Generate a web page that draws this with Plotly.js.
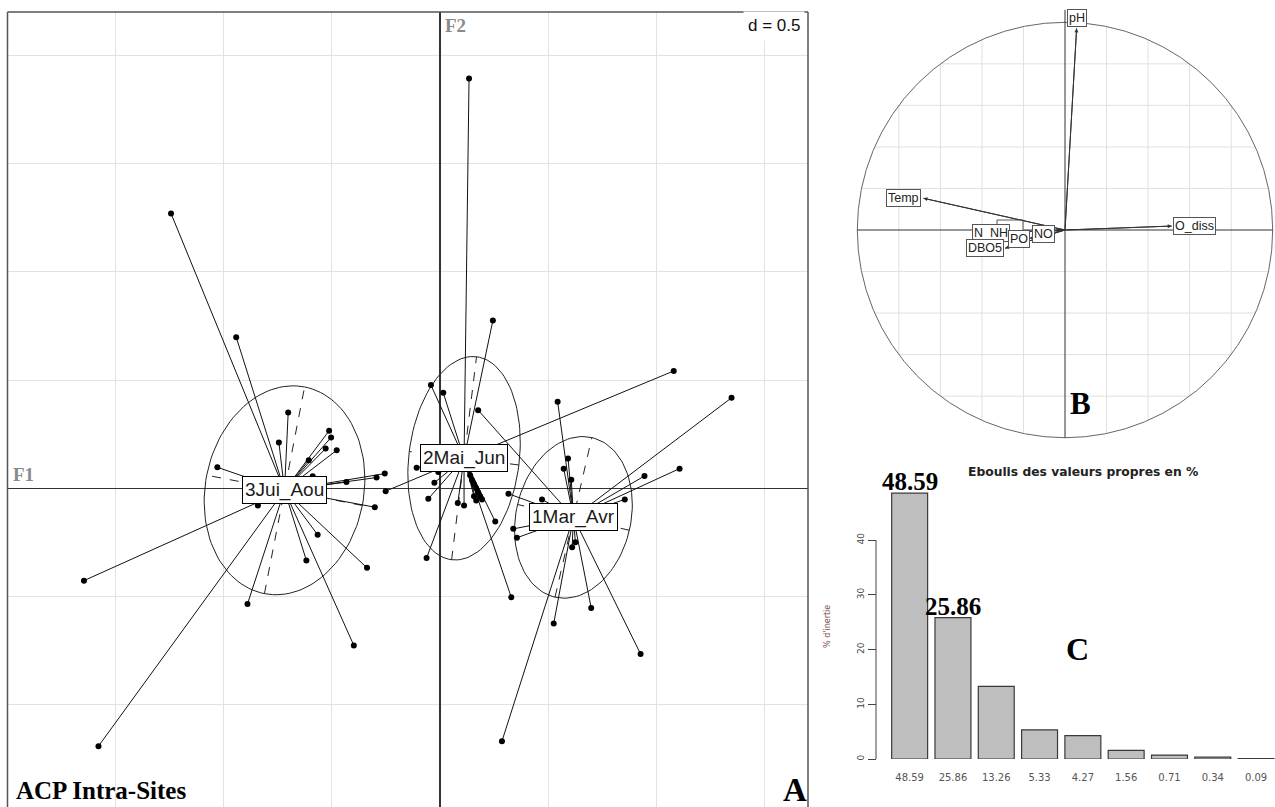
<!DOCTYPE html>
<html>
<head>
<meta charset="utf-8">
<script src="https://cdn.plot.ly/plotly-3.0.1.min.js"></script>
<style>html,body{margin:0;padding:0;background:#fff;}#chart{width:1275px;height:807px;}</style>
</head>
<body>
<div id="chart"></div>
<script>
// ---------- Panel A : ACP intra-sites (s.class) ----------
const groupNames = ["1Mar_Avr", "2Mai_Jun", "3Jui_Aou"];
const centroidX = [0.616, 0.111, -0.718];
const centroidY = [-0.134, 0.139, -0.009];

const g1X = [0.543, 0.591, 0.571, 0.606, 0.944, 0.853, 1.106, 1.346, 0.471, 0.316, 0.338, 0.355, 0.176, 0.625, 0.610, 0.525, 0.698, 0.926, 0.286];
const g1Y = [0.400, 0.138, 0.091, 0.040, 0.057, -0.051, 0.091, 0.418, -0.051, -0.025, -0.187, -0.228, 0.361, -0.249, -0.272, -0.624, -0.552, -0.765, -1.167];

const g2X = [0.134, 0.244, -0.042, 0.015, -0.108, -0.251, -0.008, -0.026, -0.054, 0.082, 0.111, -0.062, 0.255, 0.329, 1.079, 0.139, 0.148, 0.157, 0.167, 0.176, 0.185, 0.194, 0.157, 0.167];
const g2Y = [1.892, 0.775, 0.477, 0.441, 0.095, -0.013, 0.075, 0.026, -0.048, -0.068, -0.079, -0.321, -0.153, -0.503, 0.542, 0.060, 0.037, 0.019, 0.000, -0.019, -0.037, -0.051, -0.037, -0.056];

const g3X = [-1.242, -0.941, -0.701, -0.744, -0.512, -0.503, -0.528, -0.477, -0.606, -0.588, -1.028, -0.841, -0.565, -0.617, -0.337, -0.889, -1.644, -1.577, -0.398, -0.432, -0.293, -0.255, -0.301];
const g3Y = [1.269, 0.698, 0.350, 0.212, 0.266, 0.235, 0.184, 0.176, 0.130, 0.056, 0.097, -0.079, -0.214, -0.333, -0.367, -0.534, -0.426, -1.190, -0.725, 0.029, 0.050, 0.068, -0.087];

// inertia ellipses (semi-axes and orientation in degrees)
const ellMajor = [0.378, 0.472, 0.486];
const ellMinor = [0.265, 0.255, 0.366];
const ellAngle = [77, 83, 79];

// ---------- Panel B : correlation circle ----------
const varNames = ["N_NH", "DBO5", "PO", "NO", "Temp", "O_diss", "pH"];
const varX = [-0.270, -0.289, -0.170, -0.043, -0.682, 0.514, 0.056];
const varY = [-0.010, -0.088, -0.040, 0.000, 0.153, 0.019, 0.971];

// ---------- Panel C : scree plot ----------
const screeValues = [48.59, 25.86, 13.26, 5.33, 4.27, 1.56, 0.71, 0.34, 0.09];
const screeLabels = ["48.59", "25.86", "13.26", "5.33", "4.27", "1.56", "0.71", "0.34", "0.09"];
const screeTicks = [0, 10, 20, 30, 40];

// ---------- helpers ----------
const W = 1275, H = 807;
const px = x => x / W;
const py = y => 1 - y / H;
const SANS = "Liberation Sans, Arial, sans-serif";
const SERIF = "Liberation Serif, Times New Roman, serif";

const groupsX = [g1X, g2X, g3X];
const groupsY = [g1Y, g2Y, g3Y];

const traces = [];

// ellipses + dashed axes
for (let g = 0; g < 3; g++) {
  const cx = centroidX[g], cy = centroidY[g];
  const a = ellMajor[g], b = ellMinor[g], th = ellAngle[g] * Math.PI / 180;
  const ex = [], ey = [];
  for (let k = 0; k <= 120; k++) {
    const t = 2 * Math.PI * k / 120;
    ex.push(cx + a * Math.cos(t) * Math.cos(th) - b * Math.sin(t) * Math.sin(th));
    ey.push(cy + a * Math.cos(t) * Math.sin(th) + b * Math.sin(t) * Math.cos(th));
  }
  traces.push({x: ex, y: ey, xaxis: 'x', yaxis: 'y', mode: 'lines', type: 'scatter',
    line: {color: '#222', width: 1}, hoverinfo: 'skip'});
  const ax = [cx - a * Math.cos(th), cx + a * Math.cos(th), null, cx + b * Math.sin(th), cx - b * Math.sin(th)];
  const ay = [cy - a * Math.sin(th), cy + a * Math.sin(th), null, cy - b * Math.cos(th), cy + b * Math.cos(th)];
  traces.push({x: ax, y: ay, xaxis: 'x', yaxis: 'y', mode: 'lines', type: 'scatter',
    line: {color: '#222', width: 1, dash: 'dash'}, hoverinfo: 'skip'});
}

// stars
for (let g = 0; g < 3; g++) {
  const sx = [], sy = [];
  groupsX[g].forEach((v, i) => {
    sx.push(centroidX[g], v, null);
    sy.push(centroidY[g], groupsY[g][i], null);
  });
  traces.push({x: sx, y: sy, xaxis: 'x', yaxis: 'y', mode: 'lines', type: 'scatter',
    line: {color: '#111', width: 1}, hoverinfo: 'skip'});
}
for (let g = 0; g < 3; g++) {
  traces.push({x: groupsX[g], y: groupsY[g], xaxis: 'x', yaxis: 'y', mode: 'markers', type: 'scatter',
    marker: {color: '#000', size: 6}, hoverinfo: 'skip'});
}

// panel B arrow shafts
const shX = [], shY = [];
varX.forEach((v, i) => { shX.push(0, v, null); shY.push(0, varY[i], null); });
traces.push({x: shX, y: shY, xaxis: 'x2', yaxis: 'y2', mode: 'lines', type: 'scatter',
  line: {color: '#333', width: 1}, hoverinfo: 'skip'});

// panel C bars
traces.push({x: screeLabels, y: screeValues, xaxis: 'x3', yaxis: 'y3', type: 'bar', width: 0.83,
  marker: {color: '#bebebe', line: {color: '#3a3a3a', width: 1.2}}, hoverinfo: 'skip'});

// ---------- shapes ----------
const shapes = [];
const frameStyle = {color: '#555', width: 1.5};
shapes.push({type: 'line', xref: 'paper', yref: 'paper', x0: px(7.5), x1: px(7.5), y0: 0, y1: py(12), line: frameStyle});
shapes.push({type: 'line', xref: 'paper', yref: 'paper', x0: px(7.5), x1: px(808), y0: py(12), y1: py(12), line: frameStyle});
shapes.push({type: 'line', xref: 'paper', yref: 'paper', x0: px(808), x1: px(808), y0: 0, y1: py(12), line: frameStyle});

// panel B grid clipped to unit circle
for (let k = -4; k <= 4; k++) {
  if (k === 0) continue;
  const v = k * 0.2, h = Math.sqrt(1 - v * v);
  shapes.push({type: 'line', xref: 'x2', yref: 'y2', x0: v, x1: v, y0: -h, y1: h, layer: 'below', line: {color: '#e0e0e0', width: 1}});
  shapes.push({type: 'line', xref: 'x2', yref: 'y2', x0: -h, x1: h, y0: v, y1: v, layer: 'below', line: {color: '#e0e0e0', width: 1}});
}
shapes.push({type: 'circle', xref: 'x2', yref: 'y2', x0: -1, x1: 1, y0: -1, y1: 1, line: {color: '#666', width: 1}});
shapes.push({type: 'line', xref: 'x2', yref: 'y2', x0: -1, x1: 1, y0: 0, y1: 0, line: {color: '#333', width: 1}});
shapes.push({type: 'line', xref: 'x2', yref: 'y2', x0: 0, x1: 0, y0: -1, y1: 1.06, line: {color: '#333', width: 1}});
// partly hidden label box behind the cluster of labels
shapes.push({type: 'rect', xref: 'paper', yref: 'paper', x0: px(997), x1: px(1023), y0: py(236), y1: py(220), fillcolor: '#fff', line: {color: '#555', width: 1}});

// panel C y axis line (0 to 40)
shapes.push({type: 'line', xref: 'paper', yref: 'y3', x0: px(876), x1: px(876), y0: 0, y1: 40, line: {color: '#444', width: 1}});

// ---------- annotations ----------
const ann = [];
for (let g = 0; g < 3; g++) {
  ann.push({xref: 'x', yref: 'y', x: centroidX[g], y: centroidY[g], text: groupNames[g], showarrow: false,
    bgcolor: '#fff', bordercolor: '#000', borderwidth: 1, borderpad: 2,
    font: {family: SANS, size: 19, color: '#1a1a1a'}});
}
ann.push({xref: 'paper', yref: 'paper', x: px(11), y: py(474), xanchor: 'left', yanchor: 'middle', text: '<b>F1</b>', showarrow: false,
  font: {family: SERIF, size: 19, color: '#8a8a8a'}});
ann.push({xref: 'paper', yref: 'paper', x: px(443), y: py(25), xanchor: 'left', yanchor: 'middle', text: '<b>F2</b>', showarrow: false,
  font: {family: SERIF, size: 19, color: '#8a8a8a'}});
ann.push({xref: 'paper', yref: 'paper', x: px(805), y: py(26), xanchor: 'right', yanchor: 'middle', text: 'd = 0.5', showarrow: false,
  bgcolor: '#fff', borderpad: 4, font: {family: SANS, size: 17, color: '#111'}});
ann.push({xref: 'paper', yref: 'paper', x: px(14), y: py(790), xanchor: 'left', yanchor: 'middle', text: '<b>ACP Intra-Sites</b>', showarrow: false,
  font: {family: SERIF, size: 25, color: '#000'}});
ann.push({xref: 'paper', yref: 'paper', x: px(781), y: py(790), xanchor: 'left', yanchor: 'middle', text: '<b>A</b>', showarrow: false,
  font: {family: SERIF, size: 33, color: '#000'}});

// panel B arrows and labels
const labShiftX = [-18, -20, -11, -13, -19.5, 22.5, 0];
const labShiftY = [-1, 0, -1, -4, 0, 0, 10];
varX.forEach((v, i) => {
  ann.push({xref: 'x2', yref: 'y2', axref: 'x2', ayref: 'y2', x: v, y: varY[i], ax: 0, ay: 0, text: '',
    showarrow: true, arrowhead: 2, arrowsize: 0.8, arrowwidth: 1, arrowcolor: '#333', standoff: 0});
});
varX.forEach((v, i) => {
  ann.push({xref: 'x2', yref: 'y2', x: v, y: varY[i], xshift: labShiftX[i], yshift: labShiftY[i], text: varNames[i], showarrow: false,
    bgcolor: '#fff', bordercolor: '#555', borderwidth: 1, borderpad: 1,
    font: {family: SANS, size: 12.5, color: '#222'}});
});
ann.push({xref: 'paper', yref: 'paper', x: px(1080), y: py(403), xanchor: 'center', yanchor: 'middle', text: '<b>B</b>', showarrow: false,
  font: {family: SERIF, size: 31, color: '#000'}});

// panel C texts
ann.push({xref: 'paper', yref: 'paper', x: px(1083), y: py(472), xanchor: 'center', yanchor: 'middle',
  text: '<b>Eboulis des valeurs propres en %</b>', showarrow: false, font: {family: 'DejaVu Sans, sans-serif', size: 12.3, color: '#222'}});
[0, 1].forEach(i => {
  ann.push({xref: 'x3', yref: 'y3', x: i, y: screeValues[i], yanchor: 'bottom', yshift: -4,
    text: '<b>' + screeLabels[i] + '</b>', showarrow: false, font: {family: SERIF, size: 25, color: '#000'}});
});
ann.push({xref: 'paper', yref: 'paper', x: px(1077), y: py(649), xanchor: 'center', yanchor: 'middle', text: '<b>C</b>', showarrow: false,
  font: {family: SERIF, size: 32, color: '#000'}});
ann.push({xref: 'paper', yref: 'paper', x: px(827), y: py(627), xanchor: 'center', yanchor: 'middle', text: "% d'inertie", textangle: -90,
  showarrow: false, font: {family: 'DejaVu Sans, sans-serif', size: 8, color: '#7a4a4a'}});

const layout = {
  width: W, height: H, margin: {l: 0, r: 0, t: 0, b: 0},
  paper_bgcolor: '#fff', plot_bgcolor: '#fff', showlegend: false,
  xaxis: {domain: [px(7.5), px(808)], range: [-1.997, 1.699], tick0: 0, dtick: 0.5, showgrid: true, gridcolor: '#e2e2e2',
    zeroline: true, zerolinecolor: '#333', zerolinewidth: 1.2, showticklabels: false, ticks: '', showline: false, fixedrange: true, anchor: 'y'},
  yaxis: {domain: [0, py(12)], range: [-1.471, 2.199], tick0: 0, dtick: 0.5, showgrid: true, gridcolor: '#e2e2e2',
    zeroline: true, zerolinecolor: '#333', zerolinewidth: 1.2, showticklabels: false, ticks: '', showline: false, fixedrange: true, anchor: 'x'},
  xaxis2: {domain: [px(845), 1], range: [-1.0592, 1.0111], visible: false, anchor: 'y2', fixedrange: true},
  yaxis2: {domain: [py(445), 1], range: [-1.0351, 1.1074], visible: false, anchor: 'x2', fixedrange: true},
  xaxis3: {domain: [px(888), 1], range: [-0.5, 8.437], type: 'category', anchor: 'y3', showline: false, showgrid: false, zeroline: false,
    ticks: 'outside', ticklen: 9, tickcolor: 'rgba(0,0,0,0)', tickfont: {family: 'DejaVu Sans, sans-serif', size: 10, color: '#555'}, fixedrange: true},
  yaxis3: {domain: [py(759), py(480)], range: [0, 51], anchor: 'free', position: px(876), showline: false, showgrid: false, zeroline: false,
    ticks: 'outside', ticklen: 8, tickcolor: '#444', tickvals: screeTicks, ticktext: screeTicks.map(String), tickangle: -90,
    tickfont: {family: 'DejaVu Sans, sans-serif', size: 9, color: '#444'}, fixedrange: true},
  shapes: shapes,
  annotations: ann
};

Plotly.newPlot('chart', traces, layout, {displayModeBar: false, staticPlot: true});
</script>
</body>
</html>
